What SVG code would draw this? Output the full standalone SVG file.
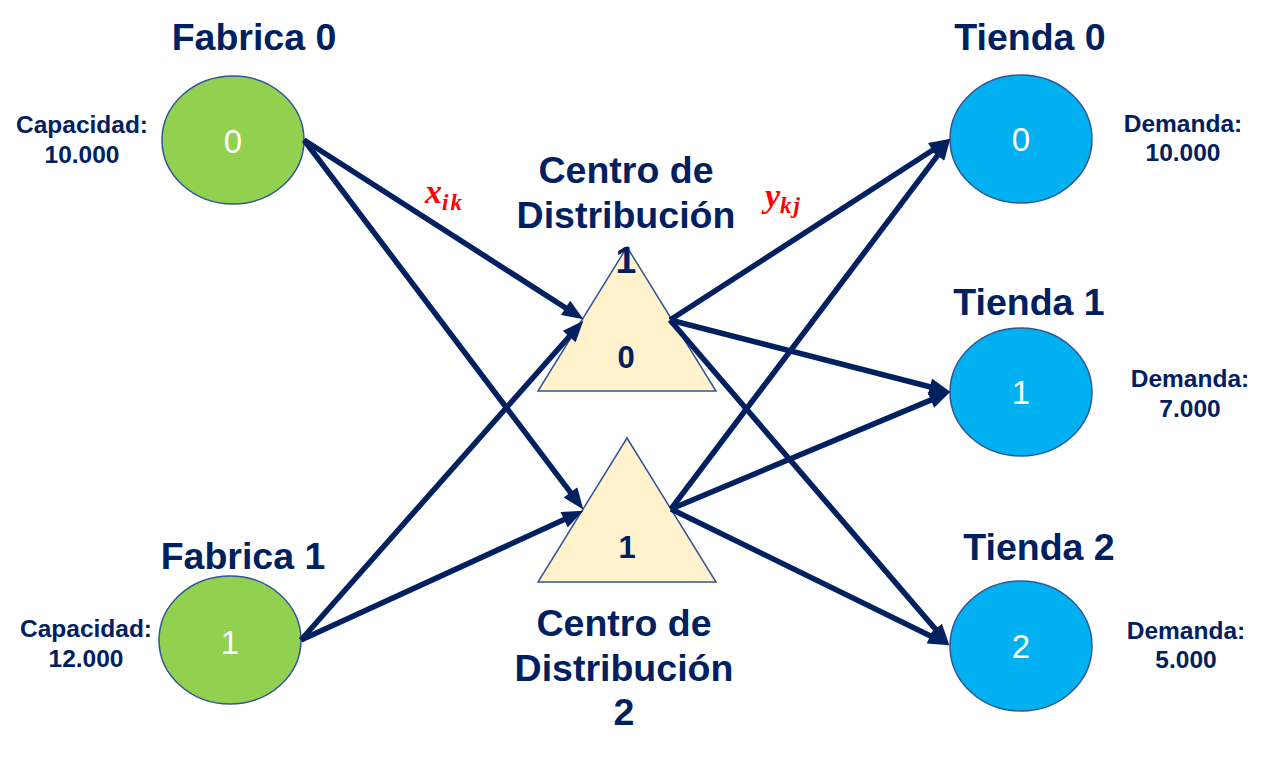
<svg xmlns="http://www.w3.org/2000/svg" width="1264" height="758" viewBox="0 0 1264 758">
<defs>
<marker id="ah" viewBox="0 0 10 8" markerWidth="22" markerHeight="17" markerUnits="userSpaceOnUse" refX="6" refY="4" orient="auto">
<path d="M0,0 L10,4 L0,8 z" fill="#002060"/>
</marker>
</defs>
<style>
.title{font-family:"Liberation Sans",Arial,sans-serif;font-weight:bold;font-size:37.5px;fill:#002060;text-anchor:middle}
.info{font-family:"Liberation Sans",Arial,sans-serif;font-weight:bold;font-size:24.5px;fill:#002060;text-anchor:middle}
.num{font-family:"Liberation Sans",Arial,sans-serif;font-size:33px;fill:#ffffff;text-anchor:middle}
.tnum{font-family:"Liberation Sans",Arial,sans-serif;font-weight:bold;font-size:31px;fill:#002060;text-anchor:middle}
.fab{fill:#92D050;stroke:#2F5597;stroke-width:1.5}
.tie{fill:#00B0F0;stroke:#2F5597;stroke-width:1.5}
.tri{fill:#FFF2CC;stroke:#2F5597;stroke-width:1.5}
.edge{stroke:#002060;stroke-width:5.5;fill:none;marker-end:url(#ah)}
.var{font-family:"Liberation Serif","Times New Roman",serif;font-style:italic;font-weight:bold;fill:#FF0000}
</style>
<g id="fabrica0">
<ellipse class="fab" cx="233" cy="140" rx="71" ry="64"/>
<text class="num" x="233" y="153">0</text>
<text class="title" x="254" y="50">Fabrica 0</text>
<text class="info" x="82" y="133">Capacidad:</text>
<text class="info" x="82" y="163">10.000</text>
</g>
<g id="fabrica1">
<ellipse class="fab" cx="230" cy="640" rx="71" ry="64"/>
<text class="num" x="230" y="654">1</text>
<text class="title" x="243" y="569">Fabrica 1</text>
<text class="info" x="86" y="637">Capacidad:</text>
<text class="info" x="86" y="667">12.000</text>
</g>
<g id="centro0">
<polygon class="tri" points="627,247 716,391 538,391"/>
<text class="tnum" x="626" y="368">0</text>
<text class="title" x="626" y="183">Centro de</text>
<text class="title" x="626" y="228">Distribución</text>
<text class="title" x="626" y="273">1</text>
</g>
<g id="centro1">
<polygon class="tri" points="627,438 716,582 538,582"/>
<text class="tnum" x="627" y="558">1</text>
<text class="title" x="624" y="636">Centro de</text>
<text class="title" x="624" y="681">Distribución</text>
<text class="title" x="624" y="725">2</text>
</g>
<g id="tienda0">
<ellipse class="tie" cx="1021" cy="139" rx="71" ry="64"/>
<text class="num" x="1021" y="151">0</text>
<text class="title" x="1030" y="50">Tienda 0</text>
<text class="info" x="1183" y="132">Demanda:</text>
<text class="info" x="1183" y="161">10.000</text>
</g>
<g id="tienda1">
<ellipse class="tie" cx="1021" cy="392" rx="71" ry="64"/>
<text class="num" x="1021" y="404">1</text>
<text class="title" x="1029" y="315">Tienda 1</text>
<text class="info" x="1190" y="387">Demanda:</text>
<text class="info" x="1190" y="417">7.000</text>
</g>
<g id="tienda2">
<ellipse class="tie" cx="1021" cy="646" rx="71" ry="65"/>
<text class="num" x="1021" y="658">2</text>
<text class="title" x="1039" y="560">Tienda 2</text>
<text class="info" x="1186" y="639">Demanda:</text>
<text class="info" x="1186" y="668">5.000</text>
</g>
<g id="connectors">
<line class="edge" x1="304" y1="140" x2="576.3" y2="314.7"/>
<line class="edge" x1="304" y1="140" x2="578.2" y2="502.6"/>
<line class="edge" x1="301" y1="640" x2="577.7" y2="327.0"/>
<line class="edge" x1="301" y1="640" x2="575.7" y2="514.3"/>
<line class="edge" x1="670" y1="320" x2="943.3" y2="143.3"/>
<line class="edge" x1="670" y1="320" x2="942.3" y2="390.0"/>
<line class="edge" x1="670" y1="320" x2="943.8" y2="638.9"/>
<line class="edge" x1="671" y1="509" x2="945.2" y2="145.4"/>
<line class="edge" x1="671" y1="509" x2="942.6" y2="395.1"/>
<line class="edge" x1="671" y1="509" x2="941.8" y2="641.5"/>
</g>
<g id="labels">
<text class="var" x="425" y="203" font-size="34">x<tspan font-size="23" dy="7" letter-spacing="2">ik</tspan></text>
<text class="var" x="765" y="207" font-size="34">y<tspan font-size="23" dy="6" letter-spacing="2">kj</tspan></text>
</g>
</svg>
